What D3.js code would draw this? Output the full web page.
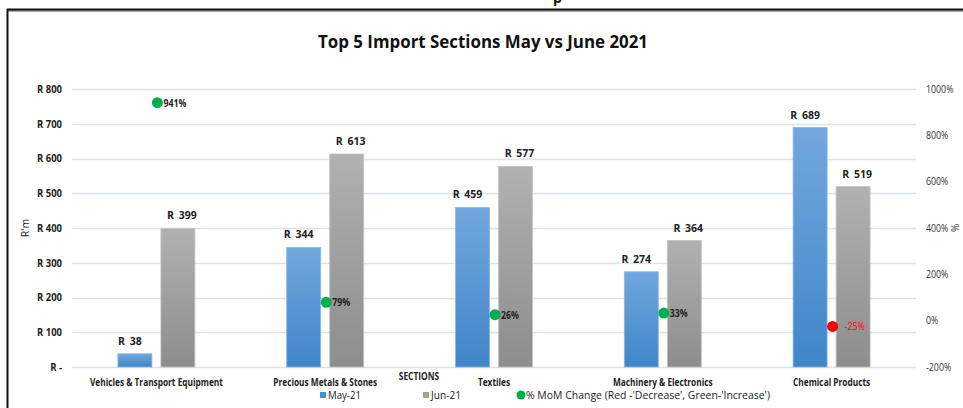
<!DOCTYPE html>
<html><head><meta charset="utf-8">
<script src="https://cdn.jsdelivr.net/npm/d3@7"></script>
<style>body{margin:0;background:#fff}svg{display:block;font-family:"Open Sans",Lato,sans-serif}</style>
</head><body><svg id="c" width="963" height="408"></svg>
<script>
const categories = ["Vehicles & Transport Equipment","Precious Metals & Stones","Textiles","Machinery & Electronics","Chemical Products"];
const may21 = [38, 344, 459, 274, 689];
const jun21 = [399, 613, 577, 364, 519];
const momPct = [941, 79, 26, 33, -25];
const leftTicks = [0,100,200,300,400,500,600,700,800];
const rightTicks = [-200,0,200,400,600,800,1000];

const svg = d3.select("#c");
const condense = (sel, f) => sel.each(function(){ const w = this.getComputedTextLength(); d3.select(this).attr("textLength", w*f).attr("lengthAdjust","spacingAndGlyphs"); });

const defs = svg.append("defs");
const gb = defs.append("linearGradient").attr("id","gBlue").attr("x1",0).attr("y1",0).attr("x2",0).attr("y2",1);
gb.append("stop").attr("offset","0%").attr("stop-color","#72a7de");
gb.append("stop").attr("offset","100%").attr("stop-color","#3f86c8");
const gg = defs.append("linearGradient").attr("id","gGray").attr("x1",0).attr("y1",0).attr("x2",0).attr("y2",1);
gg.append("stop").attr("offset","0%").attr("stop-color","#b1b1b1");
gg.append("stop").attr("offset","100%").attr("stop-color","#8d8d8d");

// frame
svg.append("line").attr("x1",7).attr("x2",963).attr("y1",11).attr("y2",11).attr("stroke","#888").attr("stroke-width",1.5);
svg.append("line").attr("x1",7).attr("x2",963).attr("y1",9.5).attr("y2",9.5).attr("stroke","#111").attr("stroke-width",2);
svg.append("line").attr("x1",7.5).attr("x2",7.5).attr("y1",9).attr("y2",408).attr("stroke","#111").attr("stroke-width",2);
svg.append("text").attr("x",553).attr("y",3).attr("font-size",14).attr("font-weight","bold").attr("fill","#111").text("p");

const L = 72, R = 916, T = 89, B = 367;
const x = d3.scaleBand().domain(categories).range([L,R]);
const y = d3.scaleLinear().domain([0,800]).range([B,T]);
const y2 = d3.scaleLinear().domain([-200,1000]).range([B,T]);

// grid
svg.append("g").selectAll("line").data(leftTicks).join("line")
  .attr("x1",L).attr("x2",R).attr("y1",d=>Math.round(y(d))+0.5).attr("y2",d=>Math.round(y(d))+0.5)
  .attr("stroke","#dde1e8").attr("stroke-width",1.3);

// title
svg.append("text").attr("x",483).attr("y",48).attr("text-anchor","middle").attr("font-size",17.5)
  .attr("font-weight","bold").attr("fill","#111").attr("textLength",330).attr("lengthAdjust","spacingAndGlyphs")
  .text("Top 5 Import Sections May vs June 2021");

// left axis
const ga = svg.append("g").attr("transform",`translate(${L-8},0)`)
  .call(d3.axisLeft(y).tickValues(leftTicks).tickSize(0).tickPadding(2).tickFormat(d=>d===0?"R -":"R "+d));
ga.select(".domain").remove();
ga.selectAll("text").attr("font-size",10.5).attr("font-weight","bold").attr("fill","#222").attr("font-family","'Open Sans',sans-serif");
condense(ga.selectAll("text"), 0.9);
svg.append("text").attr("transform","translate(29,228) rotate(-90)").attr("text-anchor","middle")
  .attr("font-size",10.5).attr("fill","#222").text("R'm");

// right axis
const gr = svg.append("g").attr("transform",`translate(${R+8},0)`)
  .call(d3.axisRight(y2).tickValues(rightTicks).tickSize(0).tickPadding(2).tickFormat(d=>d+"%"));
gr.select(".domain").remove();
gr.selectAll("text").attr("font-size",10).attr("fill","#333").attr("font-family","'Open Sans',sans-serif");
condense(gr.selectAll("text"), 0.88);
svg.append("text").attr("transform","translate(951,228) rotate(90)").attr("text-anchor","middle")
  .attr("font-size",10).attr("fill","#333").text("%");

// bars
const bw = 34, gap = 9;
const cx = d => x(d) + x.bandwidth()/2;
svg.append("g").selectAll("rect").data(categories).join("rect")
  .attr("x",d=>cx(d)-gap/2-bw).attr("width",bw)
  .attr("y",(d,i)=>y(may21[i])).attr("height",(d,i)=>B-y(may21[i]))
  .attr("fill","url(#gBlue)").attr("stroke","#8ab8e6").attr("stroke-width",0.8);
svg.append("g").selectAll("rect").data(categories).join("rect")
  .attr("x",d=>cx(d)+gap/2).attr("width",bw)
  .attr("y",(d,i)=>y(jun21[i])).attr("height",(d,i)=>B-y(jun21[i]))
  .attr("fill","url(#gGray)").attr("stroke","#c4c4c4").attr("stroke-width",0.8);

// bar labels
const lbl = (arr, off) => svg.append("g").selectAll("text").data(categories).join("text")
  .attr("x",d=>cx(d)+off).attr("y",(d,i)=>y(arr[i])-9).attr("text-anchor","middle")
  .attr("font-size",10.5).attr("font-weight","bold").attr("fill","#222").attr("word-spacing",2)
  .text((d,i)=>"R "+arr[i]);
lbl(may21, -gap/2-bw/2-5);
lbl(jun21, gap/2+bw/2+4);

// mom dots
svg.append("g").selectAll("circle").data(categories).join("circle")
  .attr("cx",d=>cx(d)+1).attr("cy",(d,i)=>y2(momPct[i])).attr("r",5.5)
  .attr("fill",(d,i)=>momPct[i]<0?"#ff0000":"#00b050");
const ml = svg.append("g").selectAll("text").data(categories).join("text")
  .attr("x",(d,i)=>cx(d)+(momPct[i]<0?13:7)).attr("y",(d,i)=>y2(momPct[i])+4)
  .attr("font-size",10).attr("font-weight",(d,i)=>momPct[i]<0?"normal":"bold")
  .attr("fill",(d,i)=>momPct[i]<0?"#ff0000":"#222")
  .text((d,i)=>momPct[i]+"%");
condense(ml, 0.88);

// x labels
const xl = svg.append("g").selectAll("text").data(categories).join("text")
  .attr("x",d=>cx(d)).attr("y",386).attr("text-anchor","middle")
  .attr("font-size",10.5).attr("font-weight","bold").attr("fill","#222").text(d=>d);
condense(xl, 0.79);
const st = svg.append("text").attr("x",419).attr("y",380).attr("text-anchor","middle")
  .attr("font-size",10.5).attr("font-weight","bold").attr("fill","#222").text("SECTIONS");
condense(st, 0.8);

// legend
const lg = svg.append("g").attr("font-size",10.5).attr("fill","#222");
lg.append("rect").attr("x",320).attr("y",392).attr("width",6).attr("height",6).attr("fill","#4a8fd0");
lg.append("text").attr("x",328).attr("y",398.5).attr("textLength",33).attr("lengthAdjust","spacingAndGlyphs").text("May-21");
lg.append("rect").attr("x",423).attr("y",392).attr("width",6).attr("height",6).attr("fill","#a0a0a0");
lg.append("text").attr("x",431).attr("y",398.5).attr("textLength",30).attr("lengthAdjust","spacingAndGlyphs").text("Jun-21");
lg.append("circle").attr("cx",521).attr("cy",395).attr("r",4.5).attr("fill","#00b050");
lg.append("text").attr("x",526).attr("y",398.5).attr("textLength",244).attr("lengthAdjust","spacingAndGlyphs")
  .text("% MoM Change (Red -'Decrease', Green-'Increase')");
</script></body></html>
